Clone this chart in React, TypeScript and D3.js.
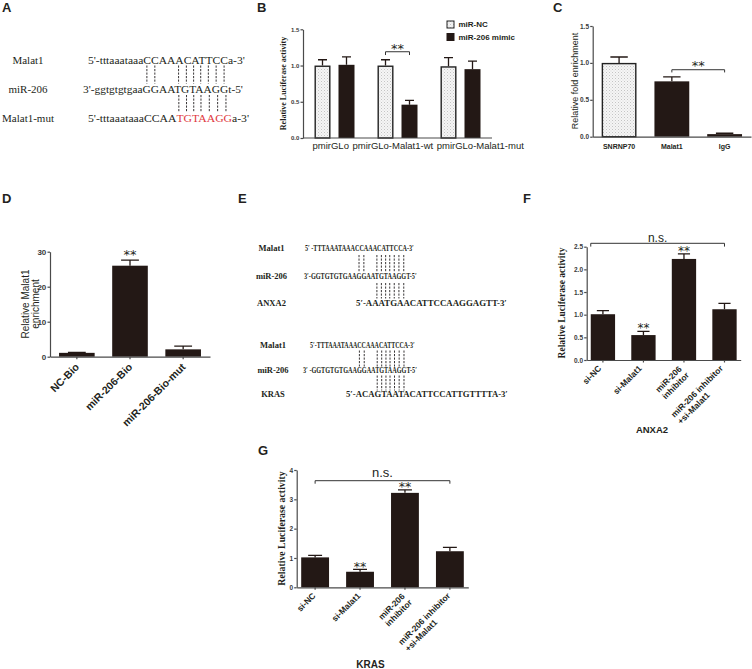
import React, { useEffect, useRef } from "react";
import * as d3 from "d3";

// ---------- Panel A ----------
const A_LABELS = ["Malat1", "miR-206", "Malat1-mut"];
const A_ROWS = ["5'-tttaaataaaCCAAACATTCCa-3'", "3'-ggtgtgtgaaGGAATGTAAGGt-5'", "5'-tttaaataaaCCAATGTAAGGa-3'"];
const A_RED = [17, 24];
const A_TOP_PAIRS = [13, 14, 17, 18, 19, 20, 21, 22, 23];
const A_BOTTOM_PAIRS = [17, 18, 19, 20, 21, 22, 23];

// ---------- Panel B ----------
const B_GROUPS = ["pmirGLo", "pmirGLo-Malat1-wt", "pmirGLo-Malat1-mut"];
const B_SERIES = ["miR-NC", "miR-206 mimic"];
const B_NC = [1.0, 1.0, 0.99];
const B_NC_ERR = [0.08, 0.08, 0.12];
const B_MIMIC = [1.01, 0.46, 0.95];
const B_MIMIC_ERR = [0.11, 0.06, 0.11];
const B_TICKS = [0, 0.5, 1.0, 1.5];
const B_SIG_GROUP = 1;

// ---------- Panel C ----------
const C_CATS = ["SNRNP70", "Malat1", "IgG"];
const C_VALUES = [1.0, 0.75, 0.035];
const C_ERR = [0.08, 0.06, 0.012];
const C_TICKS = [0, 0.5, 1.0, 1.5];
const C_SIG = [1, 2];

// ---------- Panel D ----------
const D_CATS = ["NC-Bio", "miR-206-Bio", "miR-206-Bio-mut"];
const D_VALUES = [1.1, 26, 2.1];
const D_ERR = [0.15, 1.6, 0.9];
const D_SIG = ["", "**", ""];
const D_TICKS = [0, 10, 20, 30];

// ---------- Panel E ----------
const E_LABELS_1 = ["Malat1", "miR-206", "ANXA2"];
const E_ROWS_1 = ["5′ -TTTAAATAAACCAAACATTCCA-3′", "3′-GGTGTGTGAAGGAATGTAAGGT-5′", "5′-AAATGAACATTCCAAGGAGTT-3′"];
const E_TOP_PAIRS_1 = [13, 14, 17, 18, 19, 20, 21, 22, 23];
const E_BOTTOM_PAIRS_1 = [17, 18, 19, 20, 21, 22, 23];
const E_LABELS_2 = ["Malat1", "miR-206", "KRAS"];
const E_ROWS_2 = ["5′-TTTAAATAAACCAAACATTCCA-3′", "3′ -GGTGTGTGAAGGAATGTAAGGT-5′", "5′-ACAGTAATACATTCCATTGTTTTA-3′"];
const E_TOP_PAIRS_2 = [14, 15, 18, 19, 20, 21, 22, 23, 24];
const E_BOTTOM_PAIRS_2 = [18, 19, 20, 21, 22, 23, 24];

// ---------- Panel F ----------
const F_CATS = [["si-NC"], ["si-Malat1"], ["miR-206", "inhibitor"], ["miR-206 inhibitor", "+si-Malat1"]];
const F_VALUES = [1.01, 0.55, 2.23, 1.12];
const F_ERR = [0.08, 0.08, 0.11, 0.13];
const F_SIG = ["", "**", "**", ""];
const F_TICKS = [0, 0.5, 1.0, 1.5, 2.0, 2.5];
const F_TITLE = "ANXA2";

// ---------- Panel G ----------
const G_CATS = [["si-NC"], ["si-Malat1"], ["miR-206", "inhibitor"], ["miR-206 inhibitor", "+si-Malat1"]];
const G_VALUES = [1.02, 0.53, 3.22, 1.23];
const G_ERR = [0.07, 0.08, 0.1, 0.13];
const G_SIG = ["", "**", "**", ""];
const G_TICKS = [0, 1, 2, 3, 4];
const G_TITLE = "KRAS";

const Y_LABEL_LUC = "Relative Luciferase activity";

const INK = "#231f20";
const BAR = "#231815";
const AXIS = "#4a4a4a";
const RED = "#e0393e";
const SANS = "'Liberation Sans', Arial, Helvetica, sans-serif";
const SERIF = "'Liberation Serif', 'Times New Roman', Times, serif";
const STAR = "'DejaVu Sans', sans-serif";

type Sel = d3.Selection<any, any, any, any>;

function drawSeq(parent: Sel, str: string, x: number, y: number, width: number, size: number, weight: string, red: number[] | null) {
  const g = parent.append("g");
  const t = g.append("text").attr("font-family", SERIF).attr("font-size", size).attr("font-weight", weight).attr("fill", INK);
  if (red) {
    t.append("tspan").text(str.slice(0, red[0]));
    t.append("tspan").attr("fill", RED).text(str.slice(red[0], red[1]));
    t.append("tspan").text(str.slice(red[1]));
  } else {
    t.text(str);
  }
  const node = t.node() as SVGTextElement;
  const natural = node.getComputedTextLength();
  const sx = width / natural;
  g.attr("transform", `translate(${x},${y}) scale(${sx},1)`);
  return d3.range(str.length).map((i) => {
    const e = node.getExtentOfChar(i);
    return x + sx * (e.x + e.width / 2);
  });
}

function dashes(parent: Sel, xs: number[], y1: number, y2: number) {
  parent.append("g").selectAll("line").data(xs).join("line")
    .attr("x1", (d) => d).attr("x2", (d) => d).attr("y1", y1).attr("y2", y2)
    .attr("stroke", INK).attr("stroke-width", 0.9).attr("stroke-dasharray", "2.2,1.3");
}

function stars(parent: Sel, cx: number, cy: number, size: number) {
  parent.append("text").attr("x", cx).attr("y", cy + 0.52 * size).attr("text-anchor", "middle")
    .attr("font-family", STAR).attr("font-size", size).attr("fill", INK).text("**");
}

function bracket(parent: Sel, x1: number, x2: number, y: number, drop: number) {
  parent.append("path").attr("d", `M${x1},${y + drop}V${y}H${x2}V${y + drop}`)
    .attr("fill", "none").attr("stroke", "#333").attr("stroke-width", 1);
}

function yAxis(parent: Sel, y: d3.ScaleLinear<number, number>, x0: number, ticks: number[], fmt: (d: any) => string, size: number) {
  const ax = d3.axisLeft(y).tickValues(ticks).tickFormat(fmt).tickSize(2.5).tickSizeOuter(0).tickPadding(1.2);
  const a = parent.append("g").attr("transform", `translate(${x0},0)`).call(ax as any);
  a.attr("font-family", SANS).attr("font-size", size).attr("font-weight", "bold");
  a.selectAll("path,line").attr("stroke", AXIS).attr("stroke-width", 1.2);
  a.selectAll("text").attr("fill", "#3a3a3a");
}

function xAxis(parent: Sel, x: d3.ScaleBand<number>, yb: number, tick: number) {
  const ax = d3.axisBottom(x).tickSize(tick).tickSizeOuter(0).tickFormat(() => "");
  const a = parent.append("g").attr("transform", `translate(0,${yb})`).call(ax as any);
  a.selectAll("path,line").attr("stroke", AXIS).attr("stroke-width", 1.2);
}

function errBar(parent: Sel, cx: number, yTop: number, yCap: number, capW: number) {
  parent.append("path").attr("d", `M${cx},${yTop}V${yCap}M${cx - capW / 2},${yCap}H${cx + capW / 2}`)
    .attr("stroke", BAR).attr("stroke-width", 1.3).attr("fill", "none");
}

function bar(parent: Sel, x: number, w: number, yTop: number, yb: number, light: boolean) {
  if (light) {
    parent.append("rect").attr("x", x + 0.7).attr("y", yTop + 0.7).attr("width", w - 1.4).attr("height", yb - yTop - 0.7)
      .attr("fill", "url(#dots)").attr("stroke", "#222").attr("stroke-width", 1.4);
  } else {
    parent.append("rect").attr("x", x).attr("y", yTop).attr("width", w).attr("height", yb - yTop).attr("fill", BAR);
  }
}

function rotYLabel(parent: Sel, text: string, cx: number, cy: number, size: number, family: string, weight: string) {
  parent.append("text").attr("transform", `translate(${cx + 0.35 * size},${cy}) rotate(-90)`)
    .attr("text-anchor", "middle").attr("font-family", family).attr("font-size", size)
    .attr("font-weight", weight).attr("fill", INK).text(text);
}

function simpleBars(parent: Sel, cfg: any) {
  const n = cfg.values.length;
  const x = d3.scaleBand<number>().domain(d3.range(n)).range([cfg.x0, cfg.x1]).paddingInner(cfg.pi).paddingOuter(cfg.po);
  const y = d3.scaleLinear().domain([0, cfg.max]).range([cfg.yb, cfg.yt]);
  const bw = x.bandwidth();
  cfg.values.forEach((v: number, i: number) => {
    const cx = (x(i) as number) + bw / 2;
    errBar(parent, cx, y(v), y(v + cfg.errs[i]), bw * 0.5);
    bar(parent, x(i) as number, bw, y(v), y(0), cfg.light ? cfg.light(i) : false);
  });
  yAxis(parent, y, cfg.x0, cfg.ticks, cfg.fmt, cfg.tickFont);
  xAxis(parent, x, cfg.yb, cfg.xTick);
  return { x, y, bw };
}

function rotCatLabels(parent: Sel, x: d3.ScaleBand<number>, cats: string[][], yb: number, dx: number, dy: number, size: number, lh: number) {
  cats.forEach((lines, i) => {
    const cx = (x(i) as number) + x.bandwidth() / 2 + dx;
    const lg = parent.append("g").attr("transform", `translate(${cx},${yb + dy}) rotate(-45)`);
    const ts = lines.map((l, j) =>
      lg.append("text").attr("y", j * lh).attr("font-family", SANS).attr("font-weight", "bold")
        .attr("font-size", size).attr("fill", INK).text(l));
    const w = Math.max(...ts.map((t) => (t.node() as SVGTextElement).getComputedTextLength()));
    ts.forEach((t) => t.attr("x", -w));
  });
}

function draw(svg: Sel) {
  const defs = svg.append("defs");
  const pat = defs.append("pattern").attr("id", "dots").attr("width", 3).attr("height", 3).attr("patternUnits", "userSpaceOnUse");
  pat.append("rect").attr("width", 3).attr("height", 3).attr("fill", "#f5f5f5");
  pat.append("rect").attr("x", 0).attr("y", 0).attr("width", 1).attr("height", 1).attr("fill", "#c4c4c4");
  pat.append("rect").attr("x", 1.5).attr("y", 1.5).attr("width", 1).attr("height", 1).attr("fill", "#d6d6d6");

  const labels: [string, number, number][] = [["A", 2, 12], ["B", 257, 12], ["C", 553, 12], ["D", 2, 203], ["E", 238, 203], ["F", 523, 203], ["G", 258, 455]];
  labels.forEach(([t, x, y]) => svg.append("text").attr("x", x).attr("y", y).attr("font-family", SANS)
    .attr("font-weight", "bold").attr("font-size", 13).attr("fill", INK).text(t));

  // ---- A ----
  const aX = [88, 83, 88], aW = [157, 160, 160], aBase = [63.5, 92.5, 121.5];
  A_LABELS.forEach((l, i) => svg.append("text").attr("x", 28).attr("y", aBase[i]).attr("text-anchor", "middle")
    .attr("font-family", SERIF).attr("font-size", 11).attr("fill", INK).text(l));
  const aC = A_ROWS.map((r, i) => drawSeq(svg, r, aX[i], aBase[i], aW[i], 11, "normal", i === 2 ? A_RED : null));
  dashes(svg, A_TOP_PAIRS.map((k) => (aC[0][k] + aC[1][k]) / 2), 65.5, 83.5);
  dashes(svg, A_BOTTOM_PAIRS.map((k) => (aC[1][k] + aC[2][k]) / 2), 95, 112.5);

  // ---- B ----
  const bx = d3.scaleBand<number>().domain(d3.range(B_GROUPS.length)).range([303, 492]).padding(0);
  const bIn = d3.scaleBand<number>().domain([0, 1]).range([0, 40]).paddingInner(1 / 3).paddingOuter(0);
  const by = d3.scaleLinear().domain([0, 1.5]).range([138, 29.3]);
  const bVals = [B_NC, B_MIMIC], bErrs = [B_NC_ERR, B_MIMIC_ERR];
  const bCenter = (g: number, s: number) => (bx(g) as number) + bx.bandwidth() / 2 - 20 + (bIn(s) as number) + bIn.bandwidth() / 2;
  B_GROUPS.forEach((_, g) => {
    [0, 1].forEach((s) => {
      const v = bVals[s][g];
      const cx = bCenter(g, s);
      errBar(svg, cx, by(v), by(v + bErrs[s][g]), 9);
      bar(svg, cx - bIn.bandwidth() / 2, bIn.bandwidth(), by(v), by(0), s === 0);
    });
  });
  yAxis(svg, by, 303, B_TICKS, d3.format(".1f"), 6);
  {
    const a = svg.append("path").attr("d", `M303,138H492`).attr("stroke", AXIS).attr("stroke-width", 1.2);
  }
  rotYLabel(svg, Y_LABEL_LUC, 283.3, 83.5, 8, SERIF, "bold");
  // x labels laid out one after another
  let lx = bCenter(0, 0) - bIn.bandwidth() / 2 - 2;
  B_GROUPS.forEach((t) => {
    const tx = svg.append("text").attr("x", lx).attr("y", 148.5).attr("font-family", SANS).attr("font-size", 9.5).attr("fill", INK).text(t);
    lx += (tx.node() as SVGTextElement).getComputedTextLength() + 3.5;
  });
  // legend
  B_SERIES.forEach((s, i) => {
    const ly = 21 + i * 12.5;
    if (i === 0) svg.append("rect").attr("x", 447).attr("y", ly).attr("width", 7).attr("height", 7).attr("fill", "url(#dots)").attr("stroke", "#222").attr("stroke-width", 1);
    else svg.append("rect").attr("x", 446.5).attr("y", ly - 0.5).attr("width", 8).attr("height", 8).attr("fill", BAR);
    svg.append("text").attr("x", 458.5).attr("y", ly + 6.3).attr("font-family", SANS).attr("font-weight", "bold").attr("font-size", 8).attr("fill", INK).text(s);
  });
  {
    const g = B_SIG_GROUP;
    const top = Math.min(by(B_NC[g] + B_NC_ERR[g]), by(B_MIMIC[g] + B_MIMIC_ERR[g]));
    bracket(svg, bCenter(g, 0), bCenter(g, 1), top - 8, 3.3);
    stars(svg, (bCenter(g, 0) + bCenter(g, 1)) / 2, top - 13, 13);
  }

  // ---- C ----
  const c = simpleBars(svg, { x0: 592.7, x1: 751, yb: 136.7, yt: 26, max: 1.5, values: C_VALUES, errs: C_ERR, ticks: C_TICKS, fmt: d3.format(".1f"), tickFont: 6.5, pi: 0.34, po: 0.17, xTick: 0, light: (i: number) => i === 0 });
  C_CATS.forEach((t, i) => svg.append("text").attr("x", (c.x(i) as number) + c.bw / 2).attr("y", 149.3).attr("text-anchor", "middle")
    .attr("font-family", SANS).attr("font-weight", "bold").attr("font-size", 7).attr("fill", INK).text(t));
  rotYLabel(svg, "Relative fold enrichment", 575, 81, 9, SANS, "normal");
  {
    const [i1, i2] = C_SIG;
    const top = c.y(Math.max(C_VALUES[i1] + C_ERR[i1], C_VALUES[i2] + C_ERR[i2]));
    const x1 = (c.x(i1) as number) + c.bw / 2, x2 = (c.x(i2) as number) + c.bw / 2;
    bracket(svg, x1, x2, top - 7.2, 2.7);
    stars(svg, (x1 + x2) / 2, top - 14, 13);
  }

  // ---- D ----
  const d = simpleBars(svg, { x0: 50, x1: 210, yb: 356.7, yt: 251.7, max: 30, values: D_VALUES, errs: D_ERR, ticks: D_TICKS, fmt: d3.format("d"), tickFont: 8, pi: 0.33, po: 0.17, xTick: 2.5 });
  D_CATS.forEach((t, i) => {
    const cx = (d.x(i) as number) + d.bw / 2 + 3;
    svg.append("text").attr("transform", `translate(${cx},${356.7 + 11}) rotate(-45)`).attr("text-anchor", "end")
      .attr("font-family", SANS).attr("font-weight", "bold").attr("font-size", 10.5).attr("fill", INK).text(t);
  });
  D_SIG.forEach((s, i) => {
    if (s) stars(svg, (d.x(i) as number) + d.bw / 2, d.y(D_VALUES[i] + D_ERR[i]) - 7.5, 13);
  });
  [["Relative Malat1", 25], ["enrichment", 35]].forEach(([t, x]) => rotYLabel(svg, t as string, x as number, 304, 10, SANS, "normal"));

  // ---- E ----
  const eBlocks = [
    { labels: E_LABELS_1, rows: E_ROWS_1, top: E_TOP_PAIRS_1, bottom: E_BOTTOM_PAIRS_1, lx: 271.5, base: [251, 279, 306], xs: [305, 304, 356], ws: [109, 113, 151], dTop: [255, 272], dBot: [283, 298.5] },
    { labels: E_LABELS_2, rows: E_ROWS_2, top: E_TOP_PAIRS_2, bottom: E_BOTTOM_PAIRS_2, lx: 273, base: [348, 373, 397], xs: [310, 303, 346], ws: [105, 114, 162], dTop: [350.5, 366.5], dBot: [375.5, 390.5] },
  ];
  eBlocks.forEach((b) => {
    b.labels.forEach((l, i) => svg.append("text").attr("x", b.lx).attr("y", b.base[i]).attr("text-anchor", "middle")
      .attr("font-family", SERIF).attr("font-weight", "bold").attr("font-size", 8.5).attr("fill", INK).text(l));
    const cs = b.rows.map((r, i) => drawSeq(svg, r, b.xs[i], b.base[i], b.ws[i], 8.5, "bold", null));
    dashes(svg, b.top.map((k) => cs[1][k]), b.dTop[0], b.dTop[1]);
    dashes(svg, b.bottom.map((k) => cs[1][k]), b.dBot[0], b.dBot[1]);
  });

  // ---- F ----
  const f = simpleBars(svg, { x0: 586.7, x1: 740.7, yb: 360, yt: 246.7, max: 2.5, values: F_VALUES, errs: F_ERR, ticks: F_TICKS, fmt: d3.format(".1f"), tickFont: 6.5, pi: 0.4, po: 0.1, xTick: 2.5 });
  rotCatLabels(svg, f.x, F_CATS, 360, -1, 9, 8.5, 9.5);
  rotYLabel(svg, Y_LABEL_LUC, 561.7, 303, 9.5, SERIF, "bold");
  F_SIG.forEach((s, i) => {
    if (s) stars(svg, (f.x(i) as number) + f.bw / 2, f.y(F_VALUES[i] + F_ERR[i]) - 5.5, 12);
  });
  {
    const x1 = f.x(0) as number, x2 = (f.x(3) as number) + f.bw / 2;
    bracket(svg, x1, x2, 243.3, 3.3);
    svg.append("text").attr("x", (x1 + x2) / 2).attr("y", 242.3).attr("text-anchor", "middle").attr("font-family", SANS)
      .attr("font-size", 12).attr("fill", INK).text("n.s.");
  }
  svg.append("text").attr("x", 652).attr("y", 433).attr("text-anchor", "middle").attr("font-family", SANS)
    .attr("font-weight", "bold").attr("font-size", 9.5).attr("fill", INK).text(F_TITLE);

  // ---- G ----
  const gg = simpleBars(svg, { x0: 296.7, x1: 468.3, yb: 587.3, yt: 470, max: 4, values: G_VALUES, errs: G_ERR, ticks: G_TICKS, fmt: d3.format("d"), tickFont: 6.5, pi: 0.38, po: 0.1, xTick: 2.5 });
  rotCatLabels(svg, gg.x, G_CATS, 587.3, 1, 9, 8.5, 9.5);
  rotYLabel(svg, Y_LABEL_LUC, 281.7, 528.5, 9.8, SERIF, "bold");
  G_SIG.forEach((s, i) => {
    if (s) stars(svg, (gg.x(i) as number) + gg.bw / 2, gg.y(G_VALUES[i] + G_ERR[i]) - 5, 12.5);
  });
  {
    const x1 = (gg.x(0) as number) + gg.bw / 2, x2 = (gg.x(3) as number) + gg.bw / 2;
    bracket(svg, x1, x2, 480.7, 3);
    svg.append("text").attr("x", (x1 + x2) / 2).attr("y", 476.7).attr("text-anchor", "middle").attr("font-family", SANS)
      .attr("font-size", 13).attr("fill", INK).text("n.s.");
  }
  svg.append("text").attr("x", 370.5).attr("y", 668).attr("text-anchor", "middle").attr("font-family", SANS)
    .attr("font-weight", "bold").attr("font-size", 10).attr("fill", INK).text(G_TITLE);
}

export default function App() {
  const ref = useRef<SVGSVGElement>(null);
  useEffect(() => {
    const svg = d3.select(ref.current as SVGSVGElement);
    svg.selectAll("*").remove();
    draw(svg as any);
  }, []);
  return (
    <svg
      ref={ref}
      width={752}
      height={669}
      style={{ position: "absolute", left: 0, top: 0, background: "#fff", display: "block" }}
    />
  );
}
